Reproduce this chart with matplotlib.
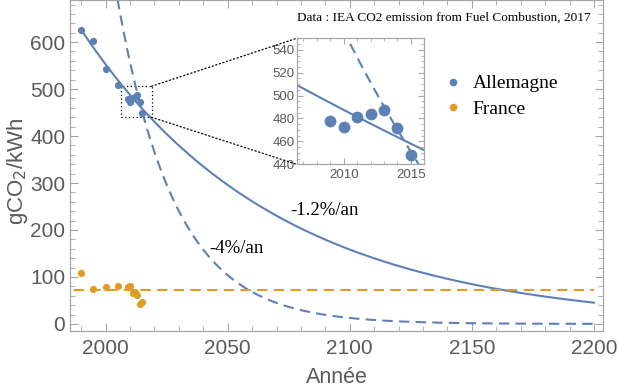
import numpy as np
import matplotlib
matplotlib.use("Agg")
import matplotlib.pyplot as plt
from matplotlib.patches import Rectangle, ConnectionPatch
from matplotlib.lines import Line2D
from matplotlib.ticker import MultipleLocator

# IEA data, gCO2/kWh
years = [1990, 1995, 2000, 2005, 2009, 2010, 2011, 2012, 2013, 2014, 2015]
allemagne = [625, 603, 543, 508, 478, 473, 481, 484, 487, 472, 448]
france = [108, 75, 79, 81, 79, 81, 65, 67, 62, 43, 46]

# trend parameters
de_ref_year = 2015
de_slow_start = 458      # -1.2%/an curve at 2015
de_slow_rate = 0.0125
de_fast_start = 451      # -4%/an curve at 2015
de_fast_rate = 0.042
fr_level = 72

blue = "#5E81B5"
orange = "#E19C24"
frame_col = "#a6a6a6"
text_col = "#5a5a5a"

fig = plt.figure(figsize=(6.18, 3.9), dpi=100)
ax = fig.add_axes([0.1133, 0.1513, 0.8624, 0.848])

t_slow = np.linspace(1990, 2200, 400)
t_fast = np.linspace(1995, 2200, 600)
slow = de_slow_start * np.exp(-de_slow_rate * (t_slow - de_ref_year))
fast = de_fast_start * np.exp(-de_fast_rate * (t_fast - de_ref_year))

ax.plot(t_slow, slow, color=blue, lw=1.5)
ax.plot(t_fast, fast, color=blue, lw=1.5, dashes=(5, 3))
ax.plot([1980, 2200], [fr_level, fr_level], color=orange, lw=1.5, dashes=(5, 3))
ax.plot(years, allemagne, "o", color=blue, ms=5.2, mec="none")
ax.plot(years, france, "o", color=orange, ms=5.2, mec="none")

ax.set_xlim(1985.4, 2203.7)
ax.set_ylim(-15, 689)


def style_frame(a, labelsize):
    for s in a.spines.values():
        s.set_color(frame_col)
        s.set_linewidth(0.9)
    a.tick_params(which="both", direction="in", top=True, right=True,
                  color=frame_col, labelcolor=text_col, labelsize=labelsize)
    a.tick_params(which="major", length=6, width=0.8)
    a.tick_params(which="minor", length=3.5, width=0.6)


style_frame(ax, 15)
ax.xaxis.set_major_locator(MultipleLocator(50))
ax.xaxis.set_minor_locator(MultipleLocator(10))
ax.yaxis.set_major_locator(MultipleLocator(100))
ax.yaxis.set_minor_locator(MultipleLocator(20))
for lab in ax.get_xticklabels() + ax.get_yticklabels():
    lab.set_fontfamily("Liberation Sans")
ax.tick_params(axis="x", pad=6)

fig.text(0.545, 0.033, "Année", ha="center", va="center", fontsize=15.5,
         color=text_col, family="Liberation Sans")
fig.text(0.028, 0.56, "gCO$_2$/kWh", ha="center", va="center", rotation=90,
         fontsize=16, color=text_col, family="Liberation Sans")

ax.text(2075.6, 241, "-1.2%/an", fontsize=13.5, family="Liberation Serif", va="center")
ax.text(2042.5, 161, "-4%/an", fontsize=13.5, family="Liberation Serif", va="center")
fig.text(0.955, 0.955, "Data : IEA CO2 emission from Fuel Combustion, 2017",
         ha="right", va="center", fontsize=9.5, family="Liberation Serif")

# zoom box
ax.add_patch(Rectangle((2006.3, 440), 12.5, 66, fill=False, ls=(0, (1, 2)),
                       lw=0.9, color="black"))

# legend
handles = [Line2D([], [], ls="none", marker="o", color=blue, ms=5.5, mec="none"),
           Line2D([], [], ls="none", marker="o", color=orange, ms=5.5, mec="none")]
fig.legend(handles, ["Allemagne", "France"], loc="upper left",
           bbox_to_anchor=(0.692, 0.853), frameon=False, handlelength=0.8,
           handletextpad=0.6, labelspacing=0.4,
           prop={"family": "Liberation Serif", "size": 14})

# inset
axin = fig.add_axes([0.480, 0.5787, 0.2065, 0.323])
t_in = np.linspace(2005, 2017, 100)
axin.plot(t_in, de_slow_start * np.exp(-de_slow_rate * (t_in - de_ref_year)),
          color=blue, lw=1.5)
axin.plot(t_in, de_fast_start * np.exp(-de_fast_rate * (t_in - de_ref_year)),
          color=blue, lw=1.5, dashes=(5, 3))
axin.plot(years, allemagne, "o", color=blue, ms=8.5, mec="none")
axin.set_xlim(2006.5, 2016)
axin.set_ylim(440, 550)
style_frame(axin, 9.5)
axin.tick_params(which="major", length=4)
axin.tick_params(which="minor", length=2.5)
axin.xaxis.set_major_locator(MultipleLocator(5))
axin.xaxis.set_minor_locator(MultipleLocator(1))
axin.yaxis.set_major_locator(MultipleLocator(20))
axin.yaxis.set_minor_locator(MultipleLocator(5))
for lab in axin.get_xticklabels() + axin.get_yticklabels():
    lab.set_fontfamily("Liberation Sans")
axin.tick_params(axis="y", pad=1.5)

for (xa, ya), (xb, yb) in [((2018.8, 506), (0, 1)), ((2018.8, 440), (0, 0))]:
    con = ConnectionPatch(xyA=(xa, ya), coordsA=ax.transData,
                          xyB=(xb, yb), coordsB=axin.transAxes,
                          ls=(0, (1, 2)), lw=0.9, color="black")
    fig.add_artist(con)

fig.savefig("out.png", dpi=100)
